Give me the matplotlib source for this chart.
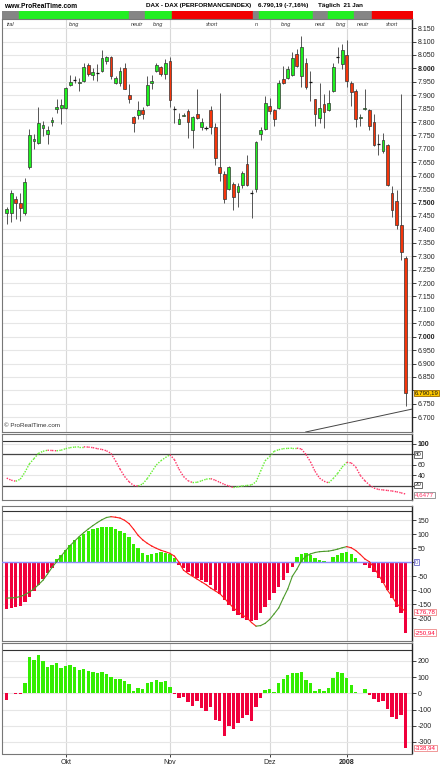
import matplotlib
matplotlib.use("Agg")
import matplotlib.pyplot as plt

plt.rcParams["font.family"] = ["Liberation Sans", "DejaVu Sans"]

# ---- daily DAX candles (bar index 0 .. 88) ----
opens = [7460, 7460, 7514, 7498, 7460, 7631, 7730, 7723, 7778, 7756,
         7800, 7848, 7852, 7854, 7940, 7956, 7944, 7954, 8012, 7977,
         7984, 7989, 8027, 8044, 7947, 7947, 8000, 7900, 7820, 7825,
         7845, 7865, 7947, 7992, 8007, 7979, 8026, 7850, 7794, 7824,
         7840, 7772, 7831, 7783, 7777, 7846, 7780, 7634, 7607, 7550,
         7570, 7540, 7566, 7644, 7535, 7551, 7756, 7775, 7860, 7845,
         7854, 7960, 7966, 7975, 8054, 7970, 8019, 7951, 7885, 7814,
         7866, 7845, 7916, 8041, 8016, 8050, 7944, 7916, 7814, 7847,
         7844, 7801, 7719, 7691, 7716, 7535, 7506, 7417, 7293]
highs = [7485, 7547, 7523, 7535, 7590, 7773, 7754, 7858, 7804, 7787,
         7820, 7885, 7885, 7930, 7975, 7972, 7966, 8019, 8022, 8000,
         8016, 8069, 8047, 8046, 7970, 8004, 8022, 7941, 7822, 7879,
         7857, 7972, 7975, 8022, 8010, 8035, 8041, 7860, 7835, 7835,
         7850, 7822, 7922, 7817, 7787, 7860, 7797, 7908, 7616, 7635,
         7575, 7572, 7619, 7679, 7545, 7729, 7782, 7897, 7891, 7850,
         7956, 8010, 8010, 8062, 8072, 8122, 8037, 7991, 7885, 7947,
         7904, 7920, 8019, 8079, 8091, 8104, 7954, 7922, 7829, 7925,
         7847, 7831, 7754, 7760, 7718, 7560, 7547, 7905, 7300]
lows = [7420, 7429, 7440, 7432, 7453, 7625, 7700, 7718, 7747, 7720,
        7787, 7833, 7791, 7848, 7935, 7947, 7916, 7950, 7972, 7957,
        7952, 7985, 8015, 7962, 7941, 7935, 7922, 7872, 7764, 7810,
        7810, 7860, 7922, 7987, 7972, 7962, 7857, 7797, 7791, 7822,
        7740, 7704, 7810, 7772, 7772, 7754, 7641, 7580, 7500, 7545,
        7472, 7485, 7554, 7560, 7441, 7541, 7735, 7772, 7829, 7787,
        7847, 7941, 7962, 7972, 8004, 7929, 7925, 7879, 7787, 7797,
        7779, 7841, 7912, 8022, 7997, 7929, 7860, 7782, 7785, 7845,
        7772, 7710, 7679, 7685, 7562, 7447, 7402, 7286, 6742]
closes = [7475, 7535, 7499, 7481, 7575, 7753, 7737, 7795, 7790, 7771,
          7806, 7856, 7865, 7926, 7951, 7956, 7950, 8006, 7979, 7985,
          7984, 8037, 8044, 7972, 7965, 7989, 7925, 7887, 7797, 7845,
          7831, 7937, 7952, 8012, 7981, 8022, 7882, 7850, 7810, 7827,
          7802, 7820, 7814, 7802, 7777, 7783, 7665, 7612, 7512, 7631,
          7520, 7560, 7610, 7566, 7535, 7726, 7769, 7872, 7840, 7810,
          7947, 7945, 7997, 8037, 8010, 8079, 7931, 7951, 7829, 7854,
          7839, 7872, 8006, 8041, 8070, 7952, 7912, 7810, 7819, 7852,
          7785, 7714, 7719, 7735, 7566, 7472, 7417, 7316, 6790.19]

# ---- trend band on top ----
band_edges = [-1.04, 2.7, 27.0, 30.5, 36.4, 54.4, 55.7, 67.6, 70.9, 76.6, 80.6, 89.4]
band_states = ["neutral", "long", "neutral", "long", "short", "neutral",
               "long", "neutral", "long", "neutral", "short"]
band_labels = ["tral", "long", "neutr", "long", "short", "n",
               "long", "neut", "long", "neutr", "short"]

# ---- stochastic ----
stoch = [35, 31, 29, 33, 46, 62, 72, 82, 86, 88,
         87.5, 87, 88, 91, 93, 94, 94.5, 94.5, 94, 93,
         91, 89.5, 87, 82, 68, 52, 38, 28, 21, 20,
         24, 34, 47, 60, 68, 74, 79.5, 70, 52, 38,
         30, 26.5, 27, 30, 33, 34, 31, 27, 23, 20,
         17, 18.5, 20, 21, 22, 28, 48, 68, 76, 86,
         89, 91, 91.5, 92, 92, 90.5, 80, 66, 48, 35,
         29, 26, 34, 44, 56, 65, 64, 56, 40, 30,
         22, 16, 13.5, 12.5, 11.5, 10.5, 9, 7, 4.6477]

# ---- MACD ----
macd_hist = [-167, -164, -160, -156, -143, -123, -102, -81, -60, -39,
             -21, 12, 26, 43, 62, 79, 90, 102, 112, 118,
             121, 125, 126, 126, 118, 112, 104, 89, 64, 50,
             32, 26, 29, 32, 38, 35, 29, 14, -8, -19,
             -33, -48, -55, -63, -71, -81, -100, -112, -134, -152,
             -174, -188, -198, -206, -209, -206, -182, -158, -134, -111,
             -87, -63, -39, -15, 20, 29, 32, 26, 17, 8,
             4, 2, 20, 26, 35, 38, 29, 17, 2, -10,
             -19, -33, -55, -75, -99, -129, -158, -182, -250.94]
macd_line = [-128, -127, -126, -122, -116, -106, -95, -80, -64, -42,
             -18, 2, 22, 42, 60, 76, 92, 106, 119, 131,
             142, 152, 160, 163, 161, 158, 150, 138, 118, 96,
             80, 68, 58, 50, 43, 38, 32, 22, 0, -28,
             -40, -50, -60, -70, -80, -92, -102, -112, -128, -146,
             -162, -176, -188, -198, -215, -228, -226, -218, -204, -184,
             -163, -128, -95, -50, -25, 5, 22, 30, 35, 38,
             39, 40, 43, 47, 52, 56, 52, 42, 28, 12,
             2, -18, -45, -70, -100, -122, -148, -162, -176.78]

# ---- momentum histogram ----
momentum = [-41, 4, -4, -4, 62, 227, 206, 237, 202, 165,
            175, 190, 159, 169, 175, 165, 146, 152, 140, 130,
            124, 130, 119, 103, 87, 89, 76, 56, 16, 31,
            25, 62, 68, 82, 72, 76, 39, -6, -31, -21,
            -52, -76, -45, -89, -109, -82, -165, -169, -262, -202,
            -222, -185, -150, -134, -169, -82, -31, 21, 25, 10,
            66, 89, 113, 124, 124, 130, 82, 62, 14, 25,
            14, 35, 93, 134, 128, 93, 52, 6, 0, 25,
            -10, -37, -56, -47, -99, -148, -161, -134, -338.94]

month_idx = [13, 36, 58, 75]
month_lbl = ["Okt", "Nov", "Dez", "2008"]

trend_pts = [(68.7, 6655), (89.3, 6730)]

W, H = 440, 770
XMIN, XMAX = -1.04, 89.4
UP, DOWN, GRAY = "#1EF01E", "#F5350A", "#858585"

fig = plt.figure(figsize=(W / 100, H / 100), dpi=100)


def px_axes(x0, y0, x1, y1):
    return fig.add_axes([x0 / W, 1 - y1 / H, (x1 - x0) / W, (y1 - y0) / H])


def setup(ax, lo, hi, ticks, labels, bold=()):
    ax.set_xlim(XMIN, XMAX)
    ax.set_ylim(lo, hi)
    ax.set_xticks([])
    ax.yaxis.tick_right()
    ax.set_yticks(ticks)
    ax.set_yticklabels(labels)
    ax.tick_params(axis="y", length=3, width=0.6, pad=1, labelsize=5, colors="#222")
    for t, v in zip(ax.get_yticklabels(), ticks):
        if v in bold:
            t.set_fontweight("bold")
    for s in ["left", "top", "bottom"]:
        ax.spines[s].set_color("#777")
        ax.spines[s].set_linewidth(0.8)
    ax.spines["right"].set_color("#222")
    ax.spines["right"].set_linewidth(1.0)
    for m in month_idx:
        ax.axvline(m, color="#D8D8D8", lw=0.8, zorder=0)
    for v in ticks:
        ax.axhline(v, color="#E6E6E6", lw=0.8, zorder=0)


def tag(ax, v, s, fc="white", ec="#555", tc="#222"):
    ax.text(1 + 3 / 410, v, s, transform=ax.get_yaxis_transform(), fontsize=4.4,
            color=tc, va="center", ha="left", clip_on=False, zorder=6,
            bbox=dict(boxstyle="square,pad=0.1", fc=fc, ec=ec, lw=0.6))


# header
fig.text(4 / W, 1 - 6 / H, "www.ProRealTime.com", fontsize=4.8, weight="bold", va="center")
fig.text(146 / W, 1 - 6 / H, "DAX - DAX (PERFORMANCEINDEX)", fontsize=4.5, weight="bold", va="center")
fig.text(258 / W, 1 - 6 / H, "6.790,19 (-7,16%)", fontsize=4.5, weight="bold", va="center")
fig.text(318 / W, 1 - 6 / H, "Täglich  21 Jan", fontsize=4.5, weight="bold", va="center")

# band
axb = px_axes(2, 11, 412, 18.5)
state_col = {"neutral": GRAY, "long": "#22EE22", "short": "#F20000"}
for k, st in enumerate(band_states):
    axb.broken_barh([(band_edges[k], band_edges[k + 1] - band_edges[k])], (0, 1),
                    color=state_col[st])
axb.set_xlim(XMIN, XMAX)
axb.set_ylim(0, 1)
axb.axis("off")

# price panel
ax = px_axes(2, 19.3, 412, 432)
p_ticks = list(range(6700, 8151, 50))
p_lbls = [f"{v:,}".replace(",", ".") if v != 6800 else "" for v in p_ticks]
setup(ax, 6645, 8183, p_ticks, p_lbls, bold=(7000, 7500, 8000))
for i in range(len(opens)):
    o, h, l, c = opens[i], highs[i], lows[i], closes[i]
    ax.vlines(i, l, h, color="#555", lw=0.7, zorder=2)
    if c == o:
        ax.hlines(c, i - 0.38, i + 0.38, color="#111", lw=0.9, zorder=3)
    else:
        ax.bar(i, c - o, bottom=o, width=0.62, color=UP if c > o else DOWN,
               edgecolor="#333", linewidth=0.5, zorder=3)
ax.axline(trend_pts[0], trend_pts[1], color="#444", lw=0.7, zorder=2)
for k, lab in enumerate(band_labels):
    ax.text((band_edges[k] + band_edges[k + 1]) / 2, 0.9886, lab, fontsize=4,
            style="italic", color="#333", ha="center", va="center",
            transform=ax.get_xaxis_transform())
ax.text(0.004, 0.009, "© ProRealTime.com", fontsize=4.5, color="#333",
        transform=ax.transAxes, va="bottom")
tag(ax, closes[-1], "6.790,19", fc="#FFC800", ec="#9A6A00", tc="#111")

# stochastic panel
ax2 = px_axes(2, 434, 412, 499.5)
setup(ax2, -5.7, 118.9, [100, 80, 60, 40, 20], ["100", "", "60", "40", ""], bold=(100,))
ax2.axhline(80, color="#444", lw=0.9, zorder=1)
ax2.axhline(20, color="#444", lw=0.9, zorder=1)
ax2.axhline(105.7, color="#333", lw=0.8, zorder=1)
for i in range(1, len(stoch)):
    col = "#66EE33" if stoch[i] >= stoch[i - 1] else "#FF3366"
    ax2.plot([i - 1, i], [stoch[i - 1], stoch[i]], color=col, lw=1.0,
             ls=(0, (1, 1)), zorder=3)
tag(ax2, 80, "80")
tag(ax2, 22, "20")
tag(ax2, stoch[-1] - 1.5, "4,6477", ec="#888", tc="#FF3366")

# MACD panel
ax3 = px_axes(2, 505.5, 412, 641)
m_ticks = list(range(150, -201, -50))
setup(ax3, -281, 202.9, m_ticks, [str(v) if v != 0 else "" for v in m_ticks])
ax3.axhline(185, color="#333", lw=0.8, zorder=1)
ax3.bar(range(len(macd_hist)), macd_hist, width=0.75,
        color=["#33EE00" if v >= 0 else "#F0003C" for v in macd_hist], zorder=2)
ax3.axhline(0, color="#8C8CFF", lw=1.0, zorder=3)
for i in range(1, len(macd_line)):
    col = "#4C9A2A" if macd_line[i] >= macd_line[i - 1] else "#FF1A1A"
    ax3.plot([i - 1, i], [macd_line[i - 1], macd_line[i]], color=col, lw=0.8, zorder=4)
tag(ax3, 0, "0", ec="#6A6AC8", tc="#6A6AC8")
tag(ax3, macd_line[-1], "-176,78", ec="#E88", tc="#FF0033")
tag(ax3, macd_hist[-1], "-250,94", ec="#E88", tc="#FF0033")

# momentum panel
ax4 = px_axes(2, 643, 412, 753.5)
h_ticks = [200, 100, 0, -100, -200, -300]
setup(ax4, -371.6, 310.5, h_ticks, [str(v) for v in h_ticks])
ax4.axhline(267.3, color="#333", lw=0.8, zorder=1)
ax4.bar(range(len(momentum)), momentum, width=0.75,
        color=["#33EE00" if v >= 0 else "#F0003C" for v in momentum], zorder=2)
tag(ax4, momentum[-1], "-338,94", ec="#E88", tc="#FF0033")
ax4.set_xticks(month_idx)
ax4.set_xticklabels(month_lbl)
ax4.tick_params(axis="x", length=2, width=0.6, pad=2, labelsize=5, colors="#222")
ax4.get_xticklabels()[-1].set_fontweight("bold")

fig.savefig("out.png", dpi=100)
